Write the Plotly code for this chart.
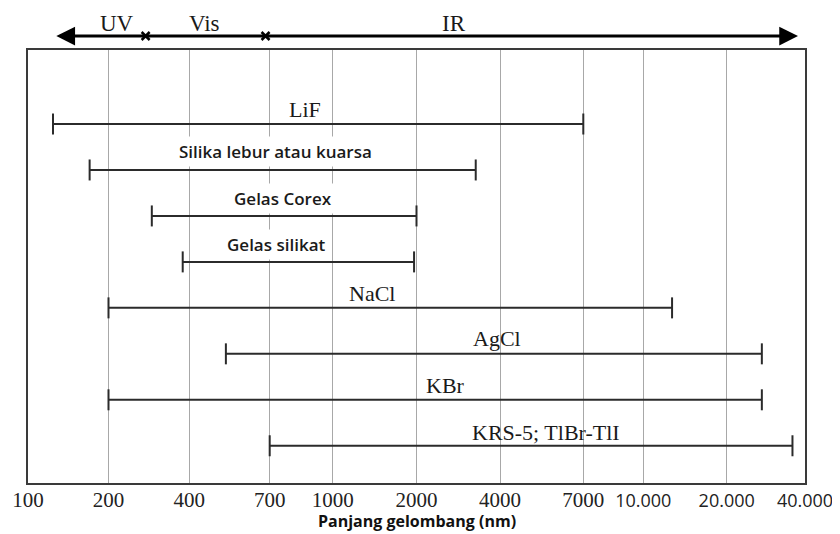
import numpy as np
import plotly.graph_objects as go

# ---------------- data ----------------
materials = ["LiF", "Silika lebur atau kuarsa", "Gelas Corex", "Gelas silikat",
             "NaCl", "AgCl", "KBr", "KRS-5; TlBr-TlI"]
range_min_nm = [124, 170, 290, 378, 200, 516, 200, 700]
range_max_nm = [7000, 3270, 2000, 1960, 12700, 27300, 27300, 35800]
tick_nm = [100, 200, 400, 700, 1000, 2000, 4000, 7000, 10000, 20000, 40000]
tick_labels = ["100", "200", "400", "700", "1000", "2000", "4000", "7000",
               "10.000", "20.000", "40.000"]
region_names = ["UV", "Vis", "IR"]
region_bounds_nm = [275, 680]
spectrum_ends_nm = [126, 37600]
axis_title = "Panjang gelombang (nm)"

# ---------------- layout / style ----------------
PAGE_OFF = 8                      # default <body> margin of the html page
WIN_W, WIN_H = 840, 534
PLOT_L, PLOT_R, PLOT_T, PLOT_B = 28, 805, 50, 483   # wanted plot box in window px
W, H = WIN_W - PAGE_OFF, WIN_H - PAGE_OFF
ML = PLOT_L - PAGE_OFF
MT = PLOT_T - PAGE_OFF
MR = W - (PLOT_R - PAGE_OFF)
MB = H - (PLOT_B - PAGE_OFF)
PLOT_H = PLOT_B - PLOT_T

# drawn (non-uniform) wavelength scale: tick positions in axis units
TICK_POS = [28, 108.5, 189.3, 269.7, 332.7, 416.5, 500, 583.3, 643.3, 726.7, 805]
LABEL_X = [305, 275, 283, 276, 372, 497, 445, 546]
LABEL_SHIFT = [15, 18, 17, 17, 14, 15, 14, 13]
SANS_LABEL = [False, True, True, True, False, False, False, False]
REGION_X = [117, 204, 454]
Y_RANGE = [7.81, -1.61]

SERIF = "Liberation Serif"
SANS = "Open Sans"
INK = "#2b2b2b"


def to_x(nm):
    return float(np.interp(np.log10(nm), np.log10(tick_nm), TICK_POS))


def px_to_paper(py):
    return 1 + (PLOT_T - py) / PLOT_H


fig = go.Figure()

rows = list(range(len(materials)))
for i, name in enumerate(materials):
    xs = [to_x(range_min_nm[i]), to_x(range_max_nm[i])]
    fig.add_trace(go.Scatter(
        x=xs, y=[rows[i], rows[i]], mode="lines+markers", name=name,
        line=dict(color=INK, width=2),
        marker=dict(symbol="line-ns", size=15, line=dict(color=INK, width=2)),
        showlegend=False, hoverinfo="skip"))

annotations = []
for i, name in enumerate(materials):
    if SANS_LABEL[i]:
        font = dict(family=SANS, size=17, color="#1a1a1a", weight=600)
        bg = "white"
    else:
        font = dict(family=SERIF, size=22, color="#1a1a1a")
        bg = "rgba(0,0,0,0)"
    annotations.append(dict(
        x=LABEL_X[i], y=rows[i], xref="x", yref="y", text=name,
        showarrow=False, yshift=LABEL_SHIFT[i], font=font,
        bgcolor=bg, borderpad=3, xanchor="center", yanchor="middle"))

# spectrum arrow on top
arrow_y = px_to_paper(36)
annotations.append(dict(
    x=to_x(spectrum_ends_nm[1]), y=arrow_y, xref="x", yref="paper",
    ax=to_x(spectrum_ends_nm[0]), ay=0, axref="x", ayref="pixel",
    text="", showarrow=True, arrowhead=2, arrowside="end+start",
    arrowsize=1.25, arrowwidth=3, arrowcolor="black", standoff=0, startstandoff=0))

shapes = []
for v in region_bounds_nm:
    xa = to_x(v)
    for s in (1, -1):
        shapes.append(dict(
            type="line", xref="x", yref="paper", xsizemode="pixel", ysizemode="pixel",
            xanchor=xa, yanchor=arrow_y, x0=-4, x1=4, y0=-4 * s, y1=4 * s,
            line=dict(color="black", width=2.5)))

region_y = px_to_paper(23)
for name, xr in zip(region_names, REGION_X):
    annotations.append(dict(
        x=xr, y=region_y, xref="x", yref="paper", text=name, showarrow=False,
        font=dict(family=SERIF, size=23, color="#1a1a1a"),
        xanchor="center", yanchor="middle"))

annotations.append(dict(
    x=0.5, y=px_to_paper(521), xref="paper", yref="paper",
    text="<b>" + axis_title + "</b>", showarrow=False,
    font=dict(family=SANS, size=16, color="#111"),
    xanchor="center", yanchor="middle"))

ticktext = []
for v, t in zip(tick_nm, tick_labels):
    if v >= 10000:
        ticktext.append('<span style="font-family:Open Sans;font-size:18px">' + t + '</span>')
    else:
        ticktext.append(t)

fig.update_layout(
    width=W, height=H,
    margin=dict(l=ML, r=MR, t=MT, b=MB, pad=0, autoexpand=False),
    paper_bgcolor="white", plot_bgcolor="white",
    annotations=annotations, shapes=shapes,
    xaxis=dict(
        range=[TICK_POS[0], TICK_POS[-1]], tickvals=TICK_POS, ticktext=ticktext,
        showgrid=True, gridcolor="#a8a8a8", gridwidth=1.3,
        showline=True, linecolor="#3a3a3a", linewidth=2, mirror=True,
        ticks="", zeroline=False, automargin=False, ticklabelstandoff=-3,
        tickfont=dict(family=SERIF, size=21, color="#222"),
    ),
    yaxis=dict(
        range=Y_RANGE, showgrid=False, showticklabels=False, ticks="",
        showline=True, linecolor="#3a3a3a", linewidth=2, mirror=True,
        zeroline=False, automargin=False,
    ),
)

fig.write_html("out.html")
